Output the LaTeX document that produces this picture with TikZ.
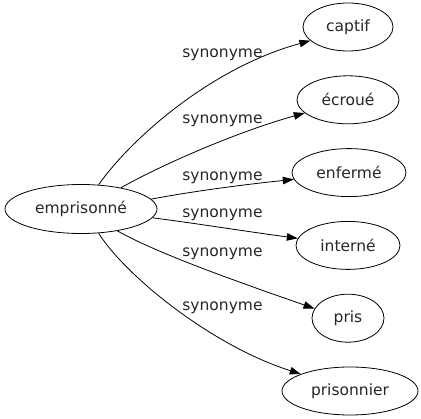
\documentclass[tikz,border=0pt]{standalone}
\usepackage{fontspec}
\setmainfont{DejaVu Sans}
\usetikzlibrary{shapes.geometric,arrows.meta}
\begin{document}
\begin{tikzpicture}[x=1pt,y=-1pt,
  word/.style={draw,ellipse,inner sep=0pt,line width=0.8pt,minimum height=48pt,font=\fontsize{15.5}{18}\selectfont,text=black!85},
  rel/.style={line width=0.8pt,-{Triangle[length=11pt,width=7.5pt]}},
  lab/.style={font=\fontsize{15.5}{18}\selectfont,anchor=base,inner sep=0pt,text=black!85}]
\useasboundingbox (0,0) rectangle (421,419);
\node[word,minimum width=152pt,minimum height=49pt] (emp) at (81,209) {emprisonné};
\node[word,minimum width=90pt] (captif) at (348,27) {captif};
\node[word,minimum width=102pt] (ecroue) at (348,99.8) {écroué};
\node[word,minimum width=114pt] (enferme) at (349,172.6) {enfermé};
\node[word,minimum width=104pt] (interne) at (348,245.4) {interné};
\node[word,minimum width=72pt] (pris) at (348,318.2) {pris};
\node[word,minimum width=136pt] (prisonnier) at (350,391) {prisonnier};
\draw[rel] (emp.54.7) .. controls (130,140) and (210,68) .. (captif.200);
\draw[rel] (emp.28.3) .. controls (165,163) and (240,131) .. (ecroue.197);
\draw[rel] (emp.8.5) .. controls (200,190) and (250,184) .. (enferme.187);
\draw[rel] (emp.-7) .. controls (200,224) and (250,232) .. (interne.172);
\draw[rel] (emp.-31) .. controls (160,255) and (250,286) .. (pris.164);
\draw[rel] (emp.-54.7) .. controls (125,275) and (210,345) .. (prisonnier.161);
\node[lab] (l1) at (222.5,57.3) {synonyme};
\node[lab] (l2) at (222.5,124) {synonyme};
\node[lab] (l3) at (222.5,180.5) {synonyme};
\node[lab] (l4) at (222.5,217.3) {synonyme};
\node[lab] (l5) at (222.5,256.7) {synonyme};
\node[lab] (l6) at (222.5,310.7) {synonyme};
\end{tikzpicture}
\end{document}
